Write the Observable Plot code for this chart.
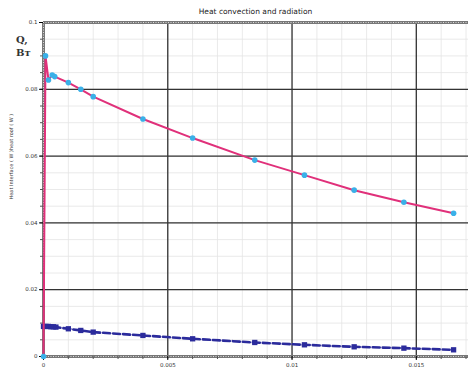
<!DOCTYPE html>
<html>
<head>
<meta charset="utf-8">
<script src="https://cdn.jsdelivr.net/npm/d3@7"></script>
<script src="https://cdn.jsdelivr.net/npm/@observablehq/plot@0.6"></script>
<style>
  body { margin: 0; background: #fff; width: 468px; height: 370px; overflow: hidden; position: relative; font-family: "DejaVu Sans", sans-serif; }
  #title { height: 20px; line-height: 24px; padding-left: 43px; text-align: center; font-size: 7.5px; color: #222; }
  #q { position: absolute; left: 16px; top: 33px; font-family: "DejaVu Serif", serif; font-size: 10px; line-height: 13px; color: #333; font-weight: bold; }
  #chart svg { display: block; }
</style>
</head>
<body>
<div id="title">Heat convection and radiation</div>
<div id="q">Q,<br>Вт</div>
<div id="chart"></div>
<script>
const titleText = "Heat convection and radiation";
const yLabel = "Heat Interface ( W )heat roof ( W )";

// Series 1 (pink line, cyan markers)
const xPink = [0, 0.00008, 0.0002, 0.00035, 0.00045, 0.001, 0.0015, 0.002, 0.004, 0.006, 0.0085, 0.0105, 0.0125, 0.0145, 0.0165];
const yPink = [0, 0.0900, 0.0828, 0.0843, 0.0838, 0.0820, 0.0800, 0.0778, 0.0711, 0.0654, 0.0588, 0.0543, 0.0498, 0.0462, 0.0429];

// Series 2 (blue dashed line, square markers)
const xBlue = [0, 0.0001, 0.0002, 0.0003, 0.0004, 0.0005, 0.001, 0.0015, 0.002, 0.004, 0.006, 0.0085, 0.0105, 0.0125, 0.0145, 0.0165];
const yBlue = [0.0090, 0.0090, 0.0090, 0.0089, 0.0089, 0.0088, 0.0083, 0.0078, 0.0073, 0.0063, 0.0053, 0.0042, 0.0035, 0.0029, 0.0025, 0.0020];

const xTicks = [0, 0.005, 0.01, 0.015];
const xTickLabels = ["0", "0.005", "0.01", "0.015"];
const yTicks = [0, 0.02, 0.04, 0.06, 0.08, 0.1];
const yTickLabels = ["0", "0.02", "0.04", "0.06", "0.08", "0.1"];

const pink = xPink.map((x, i) => ({x, y: yPink[i]}));
const blue = xBlue.map((x, i) => ({x, y: yBlue[i]}));

const xMinor = d3.range(0, 0.0171, 0.001);
const yMinor = d3.range(0, 0.1001, 0.005);

const chart = Plot.plot({
  width: 468,
  height: 350,
  marginLeft: 43,
  marginRight: 0,
  marginTop: 2,
  marginBottom: 14,
  x: {domain: [0, 0.0171], label: null},
  y: {domain: [0, 0.1], label: null},
  style: {fontFamily: "DejaVu Sans, sans-serif", background: "#fff"},
  marks: [
    Plot.gridX(xMinor, {stroke: "#e4e4e4", strokeOpacity: 1, strokeWidth: 0.8}),
    Plot.gridY(yMinor, {stroke: "#e4e4e4", strokeOpacity: 1, strokeWidth: 0.8}),
    Plot.gridX(xTicks.slice(1), {stroke: "#333", strokeOpacity: 1, strokeWidth: 1.3}),
    Plot.gridY(yTicks.slice(1, -1), {stroke: "#333", strokeOpacity: 1, strokeWidth: 1.3}),
    Plot.ruleY([0, 0.1], {stroke: "#777", strokeWidth: 3}),
    Plot.ruleY([0, 0.1], {stroke: "#ddd", strokeWidth: 1, strokeDasharray: "1,1.5"}),
    Plot.ruleX([0], {stroke: "#777", strokeWidth: 3}),
    Plot.ruleX([0], {stroke: "#ddd", strokeWidth: 1, strokeDasharray: "1,1.5"}),
    Plot.axisX(xMinor, {tickSize: 3, text: null, stroke: "#555", anchor: "bottom", label: null}),
    Plot.axisY(yMinor, {tickSize: 3, text: null, stroke: "#555", anchor: "left", label: null}),
    Plot.axisX(xTicks, {tickSize: 4, tickFormat: (d, i) => xTickLabels[i], fontSize: 5.5, fill: "#333", tickPadding: 3, anchor: "bottom", label: null}),
    Plot.axisY(yTicks, {tickSize: 4, tickFormat: (d, i) => yTickLabels[i], fontSize: 5.5, fill: "#333", tickPadding: 2, anchor: "left", label: null}),
    Plot.line(blue, {x: "x", y: "y", stroke: "#2b2b9c", strokeWidth: 2.6, strokeDasharray: "7,3"}),
    Plot.dot(blue, {x: "x", y: "y", symbol: "square", r: 3, fill: "#2b2b9c"}),
    Plot.line(pink, {x: "x", y: "y", stroke: "#e0307a", strokeWidth: 2}),
    Plot.dot(pink, {x: "x", y: "y", r: 2.8, fill: "#3ab0e8"}),
    Plot.text([yLabel], {frameAnchor: "left", dx: -32, dy: 10, rotate: -90, fontSize: 5, fill: "#333"})
  ]
});
document.getElementById("chart").appendChild(chart);
</script>
</body>
</html>
